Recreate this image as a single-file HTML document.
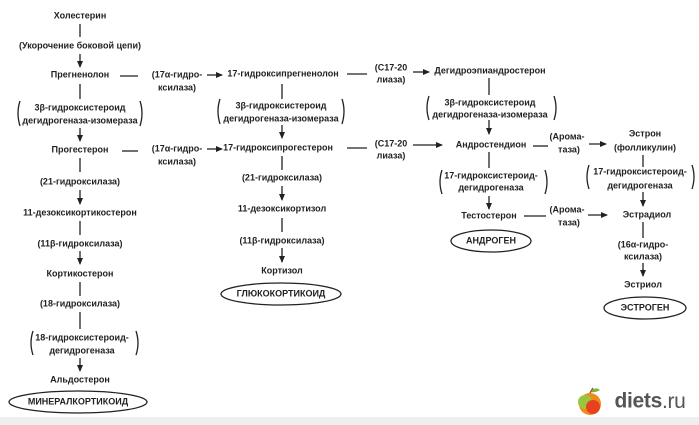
<!DOCTYPE html>
<html><head><meta charset="utf-8"><style>
html,body{margin:0;padding:0;background:#fff;width:699px;height:425px;overflow:hidden}
svg text{font-family:"Liberation Sans","DejaVu Sans",sans-serif;font-size:9px;font-weight:bold;fill:#222;text-anchor:middle;dominant-baseline:middle}
.t{stroke:#222;stroke-width:1.3;fill:none}
</style></head><body>
<svg width="699" height="425" viewBox="0 0 699 425" xmlns="http://www.w3.org/2000/svg">
<defs><marker id="a" markerWidth="7" markerHeight="6" refX="6" refY="3" orient="auto" markerUnits="userSpaceOnUse"><path d="M0,0 L7,3 L0,6 z" fill="#222"/></marker></defs>
<rect x="0" y="417" width="699" height="8" fill="#efefef"/>

<!-- Column 1 -->
<text x="80" y="16">Холестерин</text>
<line class="t" x1="80" y1="24" x2="80" y2="37"/>
<text x="80" y="46">(Укорочение боковой цепи)</text>
<line class="t" x1="80" y1="54" x2="80" y2="67" marker-end="url(#a)"/>
<text x="80" y="75">Прегненолон</text>
<line class="t" x1="120" y1="76" x2="138" y2="76"/>
<text x="177" y="75">(17α-гидро-</text>
<text x="177" y="88">ксилаза)</text>
<line class="t" x1="207" y1="75" x2="222" y2="75" marker-end="url(#a)"/>
<line class="t" x1="80" y1="84" x2="80" y2="99"/>
<text x="80" y="108">3β-гидроксистероид</text>
<text x="80" y="121">дегидрогеназа-изомераза</text>
<path class="t" d="M20,101 Q16,113 20,126 M140,101 Q144,113 140,126"/>
<line class="t" x1="80" y1="128" x2="80" y2="141" marker-end="url(#a)"/>
<text x="80" y="150">Прогестерон</text>
<line class="t" x1="122" y1="151" x2="138" y2="151"/>
<text x="177" y="149">(17α-гидро-</text>
<text x="177" y="162">ксилаза)</text>
<line class="t" x1="207" y1="149" x2="222" y2="149" marker-end="url(#a)"/>
<line class="t" x1="80" y1="158" x2="80" y2="172"/>
<text x="80" y="182">(21-гидроксилаза)</text>
<line class="t" x1="80" y1="190" x2="80" y2="204" marker-end="url(#a)"/>
<text x="80" y="213">11-дезоксикортикостерон</text>
<line class="t" x1="80" y1="221" x2="80" y2="235"/>
<text x="80" y="244">(11β-гидроксилаза)</text>
<line class="t" x1="80" y1="251" x2="80" y2="264" marker-end="url(#a)"/>
<text x="80" y="274">Кортикостерон</text>
<line class="t" x1="80" y1="282" x2="80" y2="296"/>
<text x="80" y="304">(18-гидроксилаза)</text>
<line class="t" x1="80" y1="312" x2="80" y2="329"/>
<text x="82" y="338">18-гидроксистероид-</text>
<text x="82" y="351">дегидрогеназа</text>
<path class="t" d="M33,331 Q29,343 33,355 M136,331 Q140,343 136,355"/>
<line class="t" x1="80" y1="358" x2="80" y2="371" marker-end="url(#a)"/>
<text x="80" y="380">Альдостерон</text>
<ellipse class="t" cx="78" cy="402" rx="69" ry="11"/>
<text x="78" y="402">МИНЕРАЛКОРТИКОИД</text>

<!-- Column 2 -->
<text x="283" y="74">17-гидроксипрегненолон</text>
<line class="t" x1="347" y1="74" x2="367" y2="74"/>
<text x="391" y="68">(С17-20</text>
<text x="391" y="80">лиаза)</text>
<line class="t" x1="413" y1="72" x2="429" y2="72" marker-end="url(#a)"/>
<line class="t" x1="282" y1="84" x2="282" y2="99"/>
<text x="281" y="106">3β-гидроксистероид</text>
<text x="281" y="119">дегидрогеназа-изомераза</text>
<path class="t" d="M220,99 Q216,111 220,124 M342,99 Q346,111 342,124"/>
<line class="t" x1="282" y1="125" x2="282" y2="138" marker-end="url(#a)"/>
<text x="278" y="148">17-гидроксипрогестерон</text>
<line class="t" x1="347" y1="148" x2="367" y2="148"/>
<text x="391" y="144">(С17-20</text>
<text x="391" y="156">лиаза)</text>
<line class="t" x1="413" y1="145" x2="442" y2="145" marker-end="url(#a)"/>
<line class="t" x1="282" y1="156" x2="282" y2="170"/>
<text x="282" y="178">(21-гидроксилаза)</text>
<line class="t" x1="282" y1="186" x2="282" y2="200" marker-end="url(#a)"/>
<text x="282" y="209">11-дезоксикортизол</text>
<line class="t" x1="282" y1="218" x2="282" y2="232"/>
<text x="282" y="241">(11β-гидроксилаза)</text>
<line class="t" x1="282" y1="248" x2="282" y2="262" marker-end="url(#a)"/>
<text x="282" y="271">Кортизол</text>
<ellipse class="t" cx="281" cy="294" rx="60" ry="11"/>
<text x="281" y="294">ГЛЮКОКОРТИКОИД</text>

<!-- Column 3 -->
<text x="490" y="71">Дегидроэпиандростерон</text>
<line class="t" x1="489" y1="78" x2="489" y2="95"/>
<text x="490" y="103">3β-гидроксистероид</text>
<text x="490" y="115">дегидрогеназа-изомераза</text>
<path class="t" d="M429,96 Q425,108 429,120 M554,96 Q558,108 554,120"/>
<line class="t" x1="489" y1="120" x2="489" y2="134" marker-end="url(#a)"/>
<text x="491" y="145">Андростендион</text>
<line class="t" x1="533" y1="146" x2="548" y2="146"/>
<text x="567" y="137">(Арома-</text>
<text x="569" y="150">таза)</text>
<line class="t" x1="589" y1="144" x2="606" y2="144" marker-end="url(#a)"/>
<line class="t" x1="489" y1="152" x2="489" y2="168"/>
<text x="491" y="176">17-гидроксистероид-</text>
<text x="491" y="188">дегидрогеназа</text>
<path class="t" d="M442,170 Q438,182 442,194 M545,170 Q549,182 545,194"/>
<line class="t" x1="489" y1="196" x2="489" y2="209" marker-end="url(#a)"/>
<text x="489" y="216">Тестостерон</text>
<line class="t" x1="524" y1="216" x2="546" y2="216"/>
<text x="567" y="210">(Арома-</text>
<text x="569" y="223">таза)</text>
<line class="t" x1="588" y1="215" x2="607" y2="215" marker-end="url(#a)"/>
<ellipse class="t" cx="491" cy="241" rx="40" ry="11"/>
<text x="491" y="241">АНДРОГЕН</text>

<!-- Column 4 -->
<text x="645" y="134">Эстрон</text>
<text x="645" y="148">(фолликулин)</text>
<line class="t" x1="643" y1="155" x2="643" y2="167"/>
<text x="640" y="172">17-гидроксистероид-</text>
<text x="640" y="186">дегидрогеназа</text>
<path class="t" d="M589,165 Q585,177 589,189 M692,165 Q696,177 692,189"/>
<line class="t" x1="643" y1="192" x2="643" y2="206" marker-end="url(#a)"/>
<text x="647" y="215">Эстрадиол</text>
<line class="t" x1="643" y1="222" x2="643" y2="238"/>
<text x="643" y="245">(16α-гидро-</text>
<text x="643" y="257">ксилаза)</text>
<line class="t" x1="643" y1="263" x2="643" y2="276" marker-end="url(#a)"/>
<text x="643" y="285">Эстриол</text>
<ellipse class="t" cx="645" cy="308" rx="41" ry="11"/>
<text x="645" y="308">ЭСТРОГЕН</text>

<!-- logo -->
<circle cx="590" cy="404" r="11" fill="#f08a1c"/>
<circle cx="585" cy="402" r="7" fill="#9bc53d"/>
<circle cx="593" cy="407" r="7" fill="#e8411f"/>
<path d="M590,393 L593,388" stroke="#8a5a2b" stroke-width="1.5"/>
<path d="M591,392 Q595,386 600,390 Q595,393 591,392z" fill="#7cb342"/>
<text x="650" y="402" style="font-size:21px;font-weight:bold;fill:#555;letter-spacing:-0.3px">diets<tspan style="font-weight:normal">.ru</tspan></text>
</svg>
</body></html>
